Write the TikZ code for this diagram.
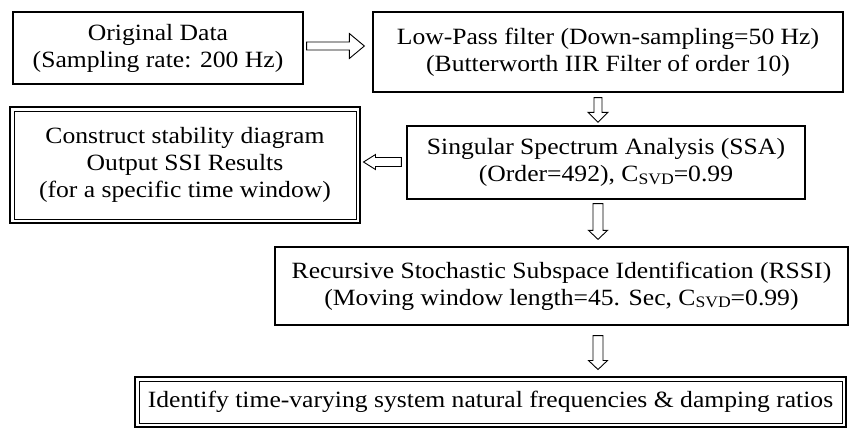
\documentclass[tikz,border=0pt]{standalone}
\usepackage{fontspec}
\setmainfont{Liberation Serif}[FakeStretch=1.1]
\usetikzlibrary{calc}
\newcommand\Csvd{C\raisebox{-2.5pt}{\fontsize{16}{16}\selectfont SVD}}
% block arrows: #1 start, #2 end, #3 shaft half width, #4 head half width, #5 head length
\newcommand\rarrow[5]{\draw[arr] let \p1=(#1), \p2=(#2) in
  (\x1,\y1+#3pt) -- (\x2-#5pt,\y1+#3pt) -- (\x2-#5pt,\y1+#4pt) -- (\x2,\y1)
  -- (\x2-#5pt,\y1-#4pt) -- (\x2-#5pt,\y1-#3pt) -- (\x1,\y1-#3pt) -- cycle;}
\newcommand\larrow[5]{\draw[arr] let \p1=(#1), \p2=(#2) in
  (\x1,\y1+#3pt) -- (\x2+#5pt,\y1+#3pt) -- (\x2+#5pt,\y1+#4pt) -- (\x2,\y1)
  -- (\x2+#5pt,\y1-#4pt) -- (\x2+#5pt,\y1-#3pt) -- (\x1,\y1-#3pt) -- cycle;}
\newcommand\darrow[5]{\draw[arr] let \p1=(#1), \p2=(#2) in
  (\x1-#3pt,\y1) -- (\x1-#3pt,\y2+#5pt) -- (\x1-#4pt,\y2+#5pt) -- (\x1,\y2)
  -- (\x1+#4pt,\y2+#5pt) -- (\x1+#3pt,\y2+#5pt) -- (\x1+#3pt,\y1) -- cycle;}
\begin{document}
\begin{tikzpicture}[x=1pt,y=1pt,
  box/.style={draw, line width=1.3pt, rectangle, inner sep=0pt, align=center,
    font=\fontsize{23.3}{27}\selectfont},
  dbox/.style={box, line width=1pt},
  outerline/.style={draw, line width=1.7pt},
  arr/.style={draw, line width=0.9pt, fill=white, line join=miter}]
\useasboundingbox (0,0) rectangle (852,-429);

\node[box, minimum width=290, minimum height=72] (b1) at (158,-48)
  {Original Data\\(Sampling rate: 200 Hz)};
\node[box, minimum width=470, minimum height=80] (b2) at (608,-52)
  {Low-Pass filter (Down-sampling=50 Hz)\\(Butterworth IIR Filter of order 10)};
\node[box, minimum width=398, minimum height=73] (b3) at (606,-162.5)
  {Singular Spectrum Analysis (SSA)\\(Order=492), \Csvd=0.99};
\node[dbox, minimum width=342, minimum height=108] (b4) at (185,-165)
  {Construct stability diagram\\Output SSI Results\\(for a specific time window)};
\node[box, minimum width=573, minimum height=78] (b5) at (561.5,-286)
  {Recursive Stochastic Subspace Identification (RSSI)\\(Moving window length=45. Sec, \Csvd=0.99)};
\node[dbox, minimum width=703, minimum height=42] (b6) at (490.5,-402)
  {Identify time-varying system natural frequencies \& damping ratios};

\draw[outerline] ($(b4.south west)+(-3.8,-3.8)$) rectangle ($(b4.north east)+(3.8,3.8)$);
\draw[outerline] ($(b6.south west)+(-3.8,-3.8)$) rectangle ($(b6.north east)+(3.8,3.8)$);

\coordinate (ax) at (598,0);
\coordinate (a1s) at ($(b1.east)+(3,2)$);
\coordinate (a1e) at ($(b2.west |- a1s)+(-8,0)$);
\coordinate (d1s) at ($(b2.south -| ax)+(0,-5)$);
\coordinate (d1e) at ($(b3.north -| ax)+(0,3)$);
\coordinate (l1s) at ($(b3.west)+(-5,0.5)$);
\coordinate (l1e) at ($(b4.east |- l1s)+(7,0)$);
\coordinate (d2s) at ($(b3.south -| ax)+(0,-4)$);
\coordinate (d2e) at ($(b5.north -| ax)+(0,7)$);
\coordinate (d3s) at ($(b5.south -| ax)+(0,-10)$);
\coordinate (d3e) at ($(b6.north -| ax)+(0,11)$);

\rarrow{a1s}{a1e}{4}{12.5}{15}
\darrow{d1s}{d1e}{4}{10}{10}
\larrow{l1s}{l1e}{4.5}{7.5}{12}
\darrow{d2s}{d2e}{5}{9.5}{9}
\darrow{d3s}{d3e}{5}{9.5}{9}
\end{tikzpicture}
\end{document}
